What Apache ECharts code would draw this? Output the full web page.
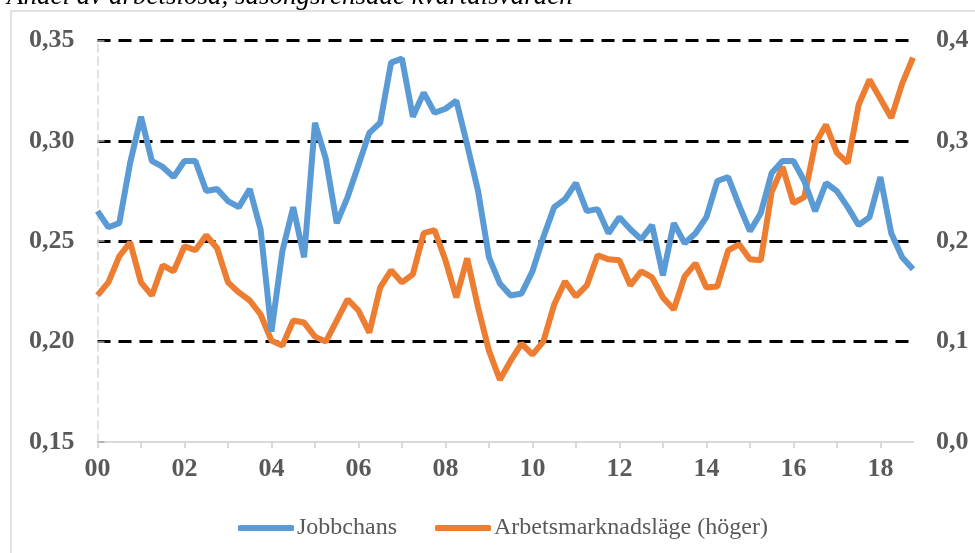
<!DOCTYPE html>
<html>
<head>
<meta charset="utf-8">
<script src="https://cdn.jsdelivr.net/npm/echarts@6/dist/echarts.min.js"></script>
<style>
  html, body { margin: 0; padding: 0; background: #fff; }
  #chart { width: 975px; height: 553px; }
</style>
</head>
<body>
<div id="chart"></div>
<script>
// kvartal 2000K1 .. 2018K4
const quarters = [];
for (let y = 2000; y <= 2018; y++) {
  for (let q = 1; q <= 4; q++) quarters.push(y + 'K' + q);
}

// Jobbchans (vänster axel)
const jobbchans = [
  0.265, 0.257, 0.259, 0.289, 0.312, 0.290, 0.287, 0.282,
  0.290, 0.290, 0.275, 0.276, 0.270, 0.267, 0.276, 0.256,
  0.205, 0.245, 0.267, 0.242, 0.309, 0.291, 0.259, 0.272,
  0.288, 0.304, 0.309, 0.339, 0.341, 0.312, 0.324, 0.314,
  0.316, 0.320, 0.298, 0.275, 0.242, 0.229, 0.223, 0.224,
  0.235, 0.252, 0.267, 0.271, 0.279, 0.265, 0.266, 0.254,
  0.262, 0.256, 0.251, 0.258, 0.233, 0.259, 0.249, 0.254,
  0.262, 0.280, 0.282, 0.268, 0.255, 0.264, 0.284, 0.290,
  0.290, 0.280, 0.265, 0.279, 0.275, 0.267, 0.258, 0.262,
  0.282, 0.254, 0.242, 0.236
];

// Arbetsmarknadsläge (höger axel)
const arbetsmarknad = [
  0.146, 0.159, 0.185, 0.199, 0.159, 0.146, 0.176, 0.170,
  0.195, 0.191, 0.206, 0.193, 0.159, 0.149, 0.141, 0.127,
  0.101, 0.096, 0.121, 0.119, 0.105, 0.100, 0.121, 0.142,
  0.131, 0.109, 0.154, 0.171, 0.159, 0.167, 0.208, 0.211,
  0.181, 0.144, 0.183, 0.134, 0.091, 0.062, 0.081, 0.098,
  0.087, 0.100, 0.137, 0.160, 0.145, 0.156, 0.186, 0.182,
  0.181, 0.156, 0.170, 0.164, 0.144, 0.132, 0.165, 0.178,
  0.154, 0.155, 0.191, 0.197, 0.182, 0.181, 0.249, 0.274,
  0.238, 0.244, 0.297, 0.316, 0.288, 0.278, 0.336, 0.361,
  0.342, 0.323, 0.357, 0.383
];

const seriesNames = ['Jobbchans', 'Arbetsmarknadsläge (höger)'];
const titleText = 'Andel av arbetslösa, säsongsrensade kvartalsvärden';

const FONT = '"Liberation Serif", "Times New Roman", serif';
const GREY = '#595959';

const chart = echarts.init(document.getElementById('chart'));

chart.setOption({
  animation: false,
  color: ['#5B9BD5', '#ED7D31'],
  graphic: [
    {
      type: 'rect',
      silent: true,
      shape: { x: 11, y: 11, width: 1000, height: 600 },
      style: { fill: 'none', stroke: '#d9d9d9', lineWidth: 1.5 }
    },
    {
      type: 'text',
      left: 7,
      top: -17,
      style: { text: titleText, font: 'italic 27px ' + FONT, fill: '#000' }
    }
  ],
  grid: { left: 97.5, right: 62, top: 40.5, bottom: 111 },
  legend: {
    left: 233,
    top: 511,
    icon: 'roundRect',
    itemWidth: 56,
    itemHeight: 6,
    itemGap: 38,
    textStyle: { fontFamily: FONT, fontSize: 24, color: GREY, padding: [0, 0, 0, -2] },
    data: seriesNames
  },
  xAxis: {
    type: 'category',
    data: quarters,
    boundaryGap: false,
    axisLine: { lineStyle: { color: '#d9d9d9', width: 2 } },
    axisTick: { interval: 3, length: 6, lineStyle: { color: '#d9d9d9', width: 2 } },
    axisLabel: {
      interval: 7,
      margin: 14,
      fontFamily: FONT,
      fontSize: 26,
      fontWeight: 'bold',
      color: GREY,
      formatter: v => v.slice(2, 4)
    },
    splitLine: { show: false }
  },
  yAxis: [
    {
      type: 'value',
      min: 0.15,
      max: 0.35,
      interval: 0.05,
      axisLine: { show: true, lineStyle: { color: '#d9d9d9', width: 1.5, type: [8, 5] } },
      axisTick: { show: true, inside: true, length: 7, lineStyle: { color: '#a6a6a6', width: 1.5 } },
      axisLabel: {
        margin: 23,
        fontFamily: FONT,
        fontSize: 26,
        fontWeight: 'bold',
        color: GREY,
        formatter: v => v.toFixed(2).replace('.', ',')
      },
      splitLine: {
        show: true,
        showMinLine: false,
        lineStyle: { color: '#000', width: 3, type: [13, 8] }
      }
    },
    {
      type: 'value',
      min: 0,
      max: 0.4,
      interval: 0.1,
      axisLine: { show: false },
      axisTick: { show: false },
      axisLabel: {
        margin: 23,
        fontFamily: FONT,
        fontSize: 26,
        fontWeight: 'bold',
        color: GREY,
        formatter: v => v.toFixed(1).replace('.', ',')
      },
      splitLine: { show: false }
    }
  ],
  series: [
    {
      name: seriesNames[0],
      type: 'line',
      yAxisIndex: 0,
      data: jobbchans,
      symbol: 'none',
      lineStyle: { width: 6 },
      z: 3
    },
    {
      name: seriesNames[1],
      type: 'line',
      yAxisIndex: 1,
      data: arbetsmarknad,
      symbol: 'none',
      lineStyle: { width: 6 },
      z: 2
    }
  ]
});
</script>
</body>
</html>
